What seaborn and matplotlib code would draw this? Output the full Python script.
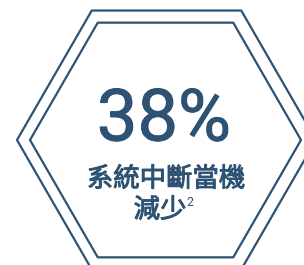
"""
Hexagon badge: 38% fewer system outages.
"""

import numpy as np
import pandas as pd
import matplotlib.pyplot as plt
import matplotlib.patheffects as pe
import seaborn as sns

# badge content
stat_value = "38%"
label_lines = ["系統中斷當機", "減少"]
footnote = "2"

# hexagon outlines (center x, center y, radius) in pixel space
hex_centers = [(166.5, 140.0), (165.5, 140.0)]
hex_radii = [149.5, 135.5]

BLUE = "#2d5274"


def hexagon_frame(cx, cy, r, name):
    angles = np.deg2rad(np.arange(0, 361, 60))
    return pd.DataFrame({
        "x": cx + r * np.cos(angles),
        "y": cy + r * np.sin(angles),
        "ring": name,
    })


def main() -> None:
    sns.set_theme(style="white")
    plt.rcParams["font.family"] = ["Noto Sans CJK TC", "DejaVu Sans"]

    fig = plt.figure(figsize=(3.04, 2.65), dpi=100)
    ax = fig.add_axes([0, 0, 1, 1])

    rings = pd.concat(
        [hexagon_frame(cx, cy, r, f"ring{i}")
         for i, ((cx, cy), r) in enumerate(zip(hex_centers, hex_radii))]
    )
    sns.lineplot(data=rings, x="x", y="y", units="ring", estimator=None,
                 sort=False, color=BLUE, linewidth=1.6, ax=ax)

    ax.set_xlim(0, 304)
    ax.set_ylim(265, 0)
    ax.axis("off")

    # slightly thickened regular weight to mimic a medium face
    thick = [pe.withStroke(linewidth=0.7, foreground=BLUE)]
    ax.text(164, 121, stat_value, ha="center", va="center",
            fontsize=52, color=BLUE, path_effects=thick,
            family=["Roboto", "DejaVu Sans"])
    ax.text(166, 179, label_lines[0], ha="center", va="center",
            fontsize=19, color=BLUE, path_effects=thick)
    ax.text(160, 210, label_lines[1], ha="center", va="center",
            fontsize=19, color=BLUE, path_effects=thick)
    ax.text(186, 202, footnote, ha="left", va="center",
            fontsize=9, color=BLUE, family=["Roboto", "DejaVu Sans"])

    fig.savefig("out.png", dpi=100)
    plt.close(fig)


if __name__ == "__main__":
    main()
